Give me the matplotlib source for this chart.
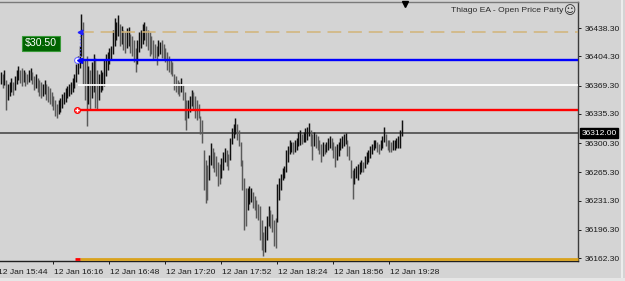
import matplotlib
matplotlib.use("Agg")
import matplotlib.pyplot as plt
import matplotlib.transforms as mtransforms

plt.rcParams['font.family'] = ['Liberation Sans', 'DejaVu Sans']

# ---------------- data ----------------
bar_high = [
    36386, 36383, 36388, 36376, 36371, 36374, 36378, 36374, 36381, 36388,
    36393, 36388, 36390, 36388, 36386, 36383, 36388, 36390, 36386, 36381,
    36383, 36378, 36376, 36374, 36371, 36376, 36371, 36369, 36366, 36362,
    36357, 36352, 36347, 36352, 36354, 36359, 36362, 36366, 36369, 36371,
    36374, 36378, 36383, 36395, 36405, 36417, 36455, 36446, 36400, 36405,
    36393, 36388, 36398, 36407, 36402, 36388, 36383, 36388, 36386, 36400,
    36407, 36410, 36414, 36417, 36436, 36450, 36446, 36454, 36443, 36441,
    36436, 36434, 36438, 36440, 36431, 36429, 36424, 36414, 36424, 36434,
    36436, 36443, 36446, 36441, 36436, 36434, 36429, 36424, 36419, 36417,
    36424, 36422, 36424, 36419, 36414, 36410, 36405, 36400, 36398, 36383,
    36381, 36376, 36374, 36378, 36371, 36362, 36352, 36352, 36357, 36364,
    36362, 36357, 36352, 36347, 36333, 36328, 36292, 36280, 36274, 36286,
    36300, 36294, 36290, 36285, 36278, 36275, 36282, 36290, 36294, 36292,
    36287, 36306, 36318, 36323, 36330, 36323, 36316, 36302, 36280, 36258,
    36246, 36246, 36249, 36246, 36242, 36237, 36232, 36227, 36225, 36208,
    36194, 36201, 36213, 36225, 36220, 36215, 36208, 36210, 36251, 36258,
    36263, 36270, 36273, 36292, 36297, 36304, 36302, 36302, 36304, 36306,
    36314, 36316, 36311, 36314, 36318, 36320, 36324, 36316, 36311, 36314,
    36311, 36309, 36304, 36299, 36302, 36299, 36302, 36306, 36309, 36306,
    36302, 36297, 36299, 36302, 36306, 36309, 36311, 36312, 36304, 36297,
    36280, 36268, 36270, 36273, 36275, 36278, 36280, 36278, 36285, 36290,
    36292, 36297, 36299, 36304, 36304, 36302, 36299, 36304, 36309, 36320,
    36311, 36304, 36304, 36302, 36304, 36304, 36306, 36309, 36316, 36328,
]
bar_low = [
    36371, 36366, 36370, 36340, 36352, 36357, 36362, 36358, 36364, 36371,
    36376, 36372, 36369, 36374, 36369, 36371, 36374, 36376, 36371, 36364,
    36366, 36362, 36357, 36354, 36357, 36359, 36352, 36350, 36347, 36345,
    36340, 36333, 36330, 36335, 36338, 36342, 36347, 36350, 36354, 36357,
    36359, 36362, 36366, 36374, 36383, 36390, 36405, 36371, 36352, 36321,
    36347, 36340, 36354, 36362, 36342, 36340, 36352, 36362, 36364, 36369,
    36381, 36388, 36395, 36400, 36407, 36417, 36424, 36429, 36417, 36419,
    36412, 36408, 36414, 36417, 36408, 36405, 36398, 36386, 36395, 36410,
    36414, 36419, 36424, 36417, 36412, 36405, 36407, 36400, 36402, 36394,
    36405, 36407, 36402, 36400, 36398, 36388, 36386, 36383, 36381, 36364,
    36362, 36359, 36357, 36362, 36352, 36328, 36316, 36330, 36338, 36345,
    36340, 36330, 36328, 36330, 36311, 36300, 36244, 36228, 36232, 36256,
    36274, 36270, 36266, 36261, 36249, 36251, 36258, 36268, 36278, 36273,
    36268, 36280, 36299, 36306, 36311, 36304, 36297, 36273, 36244, 36196,
    36201, 36220, 36227, 36230, 36222, 36220, 36210, 36208, 36184, 36172,
    36165, 36170, 36184, 36201, 36198, 36194, 36177, 36174, 36206, 36232,
    36244, 36256, 36258, 36266, 36278, 36287, 36290, 36287, 36290, 36292,
    36297, 36298, 36299, 36302, 36302, 36304, 36309, 36297, 36280, 36297,
    36294, 36292, 36287, 36278, 36285, 36287, 36290, 36292, 36294, 36292,
    36282, 36272, 36280, 36285, 36292, 36294, 36297, 36299, 36285, 36280,
    36258, 36233, 36251, 36258, 36256, 36263, 36266, 36266, 36270, 36275,
    36278, 36282, 36287, 36292, 36294, 36290, 36287, 36292, 36294, 36302,
    36297, 36292, 36290, 36290, 36292, 36292, 36294, 36294, 36294, 36309,
]

time_tick_minutes = [-2, 30, 62, 94, 126, 158, 190, 222]
time_tick_labels = ['12 Jan 15:44', '12 Jan 16:16', '12 Jan 16:48', '12 Jan 17:20',
                    '12 Jan 17:52', '12 Jan 18:24', '12 Jan 18:56', '12 Jan 19:28']
price_ticks = [36438.30, 36404.30, 36369.30, 36335.30, 36300.30,
               36265.30, 36231.30, 36196.30, 36162.30]

target_level = 36434.0
entry_level = 36400.0
mid_level = 36369.6
stop_level = 36340.0
current_price = 36312.00
trade_start = 44
profit_text = '$30.50'
title_text = 'Thiago EA - Open Price Party'
title_icon = '\u263a'

# ---------------- figure ----------------
W, H = 625, 281
BG = '#d4d4d4'
TXT = '#1a1a1a'
FS = 6.1
fig = plt.figure(figsize=(W / 100, H / 100), dpi=100, facecolor=BG)
ax = fig.add_axes([0, 1 - 261 / H, 578 / W, (261 - 2) / H])
ax.set_facecolor(BG)

x_left, x_right = -0.46, 329.8
ax.set_xlim(x_left, x_right)
ax.set_ylim(36158.8, 36469.6)

# bars
xs = list(range(len(bar_high)))
colors = []
for i in xs:
    mid = (bar_high[i] + bar_low[i]) / 2
    prev = (bar_high[i - 1] + bar_low[i - 1]) / 2 if i > 0 else mid
    colors.append('#101010' if mid >= prev else '#5a5a5a')
ax.vlines(xs, bar_low, bar_high, colors=colors, linewidth=1.05, zorder=3)

# level lines
ax.hlines(current_price, x_left, x_right, color='#4a4a4a', lw=1.2, zorder=2)
ax.hlines(entry_level, trade_start - 0.5, x_right, color='#0000ff', lw=1.7, zorder=4)
ax.hlines(mid_level, trade_start, x_right, color='#ffffff', lw=1.3, zorder=4)
ax.hlines(stop_level, trade_start - 0.5, x_right, color='#ff0000', lw=1.7, zorder=4)
ax.plot([trade_start + 1.5, x_right], [target_level, target_level], color='#d2b478',
        lw=1.1, dashes=(9, 4.5), zorder=4)

# trade markers
ax.plot([trade_start + 1.5, trade_start + 1.5], [target_level, entry_level],
        color='#5a5aff', lw=0.9, ls=':', zorder=5)
ax.plot(trade_start - 0.2, entry_level, 'o', ms=4.2, mfc='#ffffff', mec='#6a6aff', mew=0.8, zorder=6)
ax.plot(trade_start + 0.6, entry_level, '<', ms=3.6, color='#0000ff', zorder=7)
ax.plot(trade_start + 1.2, target_level, '<', ms=3.4, color='#2020ff', zorder=7)
ax.plot(trade_start - 0.6, stop_level, 'o', ms=4.2, mfc='#ff5050', mec='#ff0000', mew=0.8, zorder=6)
ax.plot(trade_start - 0.6, stop_level, '+', ms=3.0, color='#ffffff', mew=0.8, zorder=7)

# bottom indicator line
btrans = mtransforms.blended_transform_factory(ax.transData, ax.transAxes)
ax.plot([trade_start + 1, x_right], [0.006, 0.006], color='#d9a21c', lw=2.0,
        transform=btrans, clip_on=False, zorder=5, solid_capstyle='butt')
ax.plot([trade_start - 1.5, trade_start + 1], [0.006, 0.006], color='#ff0000', lw=2.0,
        transform=btrans, clip_on=False, zorder=5, solid_capstyle='butt')

# profit box
ax.text(23, 36420, profit_text, color='white', fontsize=7.6, ha='center', va='center',
        zorder=8, bbox=dict(boxstyle='square,pad=0.25', fc='#006400', ec='#3a9a3a', lw=0.8))

# spines
ax.spines['left'].set_visible(False)
ax.spines['top'].set_color('#7a7a7a')
ax.spines['top'].set_linewidth(1.0)
ax.spines['right'].set_color('#3c3c3c')
ax.spines['right'].set_linewidth(1.0)
ax.spines['bottom'].set_color('#202020')
ax.spines['bottom'].set_linewidth(1.0)

# y axis on the right
ax.yaxis.tick_right()
ax.set_yticks(price_ticks)
ax.set_yticklabels(['%.2f' % p for p in price_ticks], fontsize=FS, color=TXT)
ax.tick_params(axis='y', direction='out', length=2.5, width=0.7, pad=2.0, colors=TXT)

# x axis: ticks and left-aligned labels
inside = [t for t in time_tick_minutes if x_left <= t <= x_right]
ax.set_xticks(inside)
ax.set_xticklabels([])
ax.tick_params(axis='x', direction='out', length=2.5, width=0.7, colors=TXT)
for t, lab in zip(time_tick_minutes, time_tick_labels):
    ax.text(t + 0.5, -0.03, lab, transform=btrans, ha='left', va='top', fontsize=FS,
            color=TXT, clip_on=False)

# current price tag
ytrans = mtransforms.blended_transform_factory(ax.transAxes, ax.transData)
ax.text(1.0 + 3.5 / 578, current_price, '%.2f' % current_price, transform=ytrans,
        ha='left', va='center', fontsize=FS, color='white', clip_on=False, zorder=9,
        bbox=dict(boxstyle='square,pad=0.18', fc='black', ec='black'))

# title
fig.text(563 / W, 1 - 11 / H, title_text, ha='right', va='center', fontsize=FS,
         color='#2a2a2a')
fig.text(569 / W, 1 - 11 / H, title_icon, ha='center', va='center', fontsize=8.5,
         color='#2a2a2a', family=['DejaVu Sans'])

# chart shift marker
ax.plot([405 / 578], [0.993], marker='v', color='black', ms=4.5, transform=ax.transAxes,
        clip_on=False, zorder=9)

# right edge strip and bottom strip
fig.patches.append(plt.Rectangle((621 / W, 3 / H), 2 / W, 1 - 3 / H, transform=fig.transFigure,
                                 fc='#ececec', ec='none'))
fig.patches.append(plt.Rectangle((0, 0), 1, 3 / H, transform=fig.transFigure,
                                 fc='#e6e6e6', ec='none'))

fig.savefig('out.png', dpi=100, facecolor=BG)
